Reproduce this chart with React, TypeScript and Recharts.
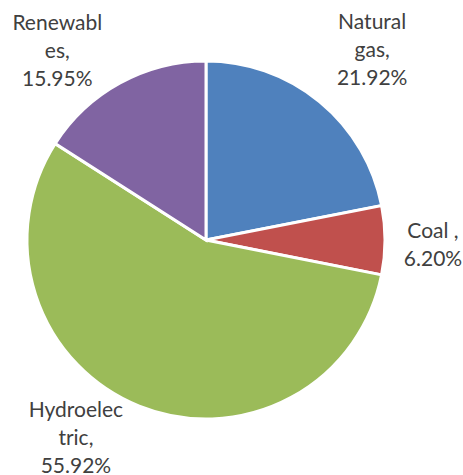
import React from 'react'
import { PieChart, Pie, Cell } from 'recharts'

const categories = ['Natural gas', 'Coal ', 'Hydroelectric', 'Renewables']
const shares = [21.92, 6.2, 55.92, 15.95]
const colors = ['#4F81BD', '#C0504D', '#9BBB59', '#8064A2']

// wrapped label text as drawn in the original
const labelLines = [
  ['Natural', 'gas,', '21.92%'],
  ['Coal ,', '6.20%'],
  ['Hydroelec', 'tric,', '55.92%'],
  ['Renewabl', 'es,', '15.95%'],
]
// label placement: extra radius and angle shift from slice mid angle
const labelPlace = [
  { r: 75, da: -1.4 },
  { r: 48, da: -0.7 },
  { r: 56, da: -11.7 },
  { r: 63, da: 9.2 },
]

const data = categories.map((name, i) => ({ name, value: shares[i] }))

const RAD = Math.PI / 180

const renderLabel = (props: any) => {
  const { cx, cy, midAngle, outerRadius, index } = props
  const p = labelPlace[index]
  const a = (midAngle + p.da) * RAD
  const x = cx + (outerRadius + p.r) * Math.cos(a)
  const y = cy - (outerRadius + p.r) * Math.sin(a)
  const lines = labelLines[index]
  const lh = 28
  const top = y - ((lines.length - 1) * lh) / 2
  return (
    <text x={x} y={top} textAnchor="middle" dominantBaseline="central" fill="#404040" fontSize={21} fontFamily="Lato, 'Open Sans', sans-serif">
      {lines.map((l, k) => (
        <tspan key={k} x={x} y={top + k * lh}>{l}</tspan>
      ))}
    </text>
  )
}

const App = () => (
  <div style={{ position: 'absolute', left: 0, top: 0, background: '#fff' }}>
    <PieChart width={463} height={475} margin={{ top: 0, right: 0, bottom: 0, left: 0 }}>
      <Pie
        data={data}
        dataKey="value"
        cx={206}
        cy={240}
        outerRadius={179}
        startAngle={90}
        endAngle={-270}
        stroke="#fff"
        strokeWidth={3}
        label={renderLabel}
        labelLine={false}
        isAnimationActive={false}
      >
        {data.map((d, i) => <Cell key={d.name} fill={colors[i]} />)}
      </Pie>
    </PieChart>
  </div>
)

export default App
